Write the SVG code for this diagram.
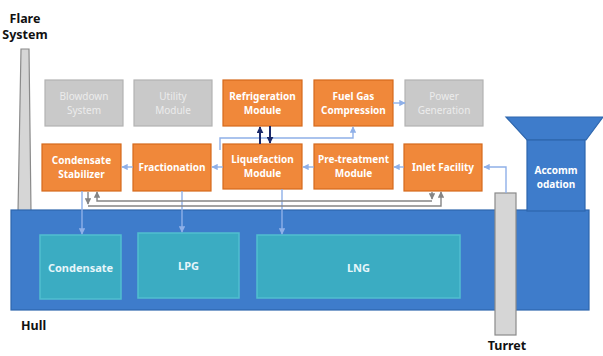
<svg xmlns="http://www.w3.org/2000/svg" width="603" height="356" viewBox="0 0 603 356">
<style>
.lbl{font-family:"Noto Sans","Open Sans","Liberation Sans",sans-serif;font-weight:bold;}
.blk{fill:#111;font-size:12.5px;}
.box{stroke-width:1.2;}
.or{fill:#f0883a;stroke:#d5691c;}
.gr{fill:#c9c9c9;stroke:#b3b3b3;}
.bt{font-size:10px;fill:#fff;text-anchor:middle;}
.gt{font-size:10px;fill:#ececec;text-anchor:middle;font-weight:normal;}
.tank{fill:#3bacc2;stroke:#52bed0;stroke-width:1.5;}
.tt{font-size:11px;fill:#e6f6fa;text-anchor:middle;}
.lb{fill:none;stroke:#8fb0e8;stroke-width:1.4;}
.nv{fill:none;stroke:#1b2a6b;stroke-width:2;}
.gy{fill:none;stroke:#858585;stroke-width:1.4;}
</style>
<defs>
<marker id="ab" viewBox="0 0 10 10" refX="9" refY="5" markerWidth="4.5" markerHeight="4.5" orient="auto"><path d="M0,0L10,5L0,10z" fill="#8fb0e8"/></marker>
<marker id="an" viewBox="0 0 10 10" refX="9" refY="5" markerWidth="3.5" markerHeight="3.5" orient="auto"><path d="M0,0L10,5L0,10z" fill="#1b2a6b"/></marker>
<marker id="ag" viewBox="0 0 10 10" refX="9" refY="5" markerWidth="4.5" markerHeight="4.5" orient="auto"><path d="M0,0L10,5L0,10z" fill="#858585"/></marker>
</defs>
<rect width="603" height="356" fill="#fff"/>

<g id="flare">
<polygon points="21,49 29,49 31,212 18,212" fill="#d6d6d6" stroke="#8a8a8a" stroke-width="1.2"/>
<text class="lbl blk" x="25" y="23" text-anchor="middle">Flare</text>
<text class="lbl blk" x="25" y="39" text-anchor="middle">System</text>
</g>

<g id="hull">
<rect x="11" y="210" width="578" height="100" fill="#3e7ccb" stroke="#2e66ad" stroke-width="1.2"/>
<text class="lbl blk" x="21" y="330" font-size="11.5">Hull</text>
</g>

<g id="accommodation">
<polygon points="506,117 603,117 586,140 527,140" fill="#3e7ccb" stroke="#2e66ad" stroke-width="1.2"/>
<rect x="527" y="140" width="58" height="71" fill="#3e7ccb" stroke="#2e66ad" stroke-width="1.2"/>
<text class="lbl bt" x="556" y="174" font-size="10.5">Accomm</text>
<text class="lbl bt" x="556" y="188" font-size="10.5">odation</text>
</g>

<g id="turret">
<rect x="495" y="193" width="21" height="142" fill="#d6d6d6" stroke="#8a8a8a" stroke-width="1.2"/>
<text class="lbl blk" x="507" y="350" text-anchor="middle" font-size="11.5">Turret</text>
</g>

<g id="blowdown"><rect class="box gr" x="45" y="80" width="78" height="46"/><text class="lbl gt" x="84" y="100">Blowdown</text><text class="lbl gt" x="84" y="114">System</text></g>
<g id="utility"><rect class="box gr" x="134" y="80" width="78" height="46"/><text class="lbl gt" x="173" y="100">Utility</text><text class="lbl gt" x="173" y="114">Module</text></g>
<g id="refrigeration"><rect class="box or" x="223" y="80" width="79" height="46"/><text class="lbl bt" x="262.5" y="100">Refrigeration</text><text class="lbl bt" x="262.5" y="114">Module</text></g>
<g id="fuelgas"><rect class="box or" x="314" y="80" width="79" height="46"/><text class="lbl bt" x="353.5" y="100">Fuel Gas</text><text class="lbl bt" x="353.5" y="114">Compression</text></g>
<g id="power"><rect class="box gr" x="405" y="80" width="78" height="46"/><text class="lbl gt" x="444" y="100">Power</text><text class="lbl gt" x="444" y="114">Generation</text></g>

<g id="condstab"><rect class="box or" x="42" y="144" width="79" height="47"/><text class="lbl bt" x="81.5" y="164">Condensate</text><text class="lbl bt" x="81.5" y="178">Stabilizer</text></g>
<g id="fractionation"><rect class="box or" x="133" y="144" width="78" height="47"/><text class="lbl bt" x="172" y="171">Fractionation</text></g>
<g id="liquefaction"><rect class="box or" x="223" y="144" width="79" height="45"/><text class="lbl bt" x="262.5" y="163">Liquefaction</text><text class="lbl bt" x="262.5" y="177">Module</text></g>
<g id="pretreatment"><rect class="box or" x="314" y="144" width="79" height="45"/><text class="lbl bt" x="353.5" y="163">Pre-treatment</text><text class="lbl bt" x="353.5" y="177">Module</text></g>
<g id="inlet"><rect class="box or" x="404" y="144" width="78" height="47"/><text class="lbl bt" x="443" y="171">Inlet Facility</text></g>

<g id="condensate"><rect class="tank" x="40" y="235" width="81" height="64"/><text class="lbl tt" x="80.5" y="272">Condensate</text></g>
<g id="lpg"><rect class="tank" x="138" y="233" width="101" height="65"/><text class="lbl tt" x="188.5" y="270">LPG</text></g>
<g id="lng"><rect class="tank" x="257" y="235" width="203" height="63"/><text class="lbl tt" x="358.5" y="272">LNG</text></g>

<g id="connectors">
<path class="lb" d="M506,193V167H484" marker-end="url(#ab)"/>
<path class="lb" d="M404,167H394" marker-end="url(#ab)"/>
<path class="lb" d="M314,167H303" marker-end="url(#ab)"/>
<path class="lb" d="M223,167H212" marker-end="url(#ab)"/>
<path class="lb" d="M133,167H122" marker-end="url(#ab)"/>
<path class="lb" d="M393,103H405" marker-end="url(#ab)"/>
<path class="lb" d="M220,150V138H353V127" marker-end="url(#ab)"/>
<path class="nv" d="M260,144V127" marker-end="url(#an)"/>
<path class="nv" d="M270,126V143" marker-end="url(#an)"/>
<path class="lb" d="M82,191V234" marker-end="url(#ab)"/>
<path class="lb" d="M182,191V232" marker-end="url(#ab)"/>
<path class="lb" d="M282,189V234" marker-end="url(#ab)"/>
<path class="gy" d="M88,192V204" marker-end="url(#ag)"/>
<path class="gy" d="M88,206H441V192" marker-end="url(#ag)"/>
<path class="gy" d="M432,192V199" marker-end="url(#ag)"/>
<path class="gy" d="M432,201H97V192" marker-end="url(#ag)"/>
</g>
</svg>
